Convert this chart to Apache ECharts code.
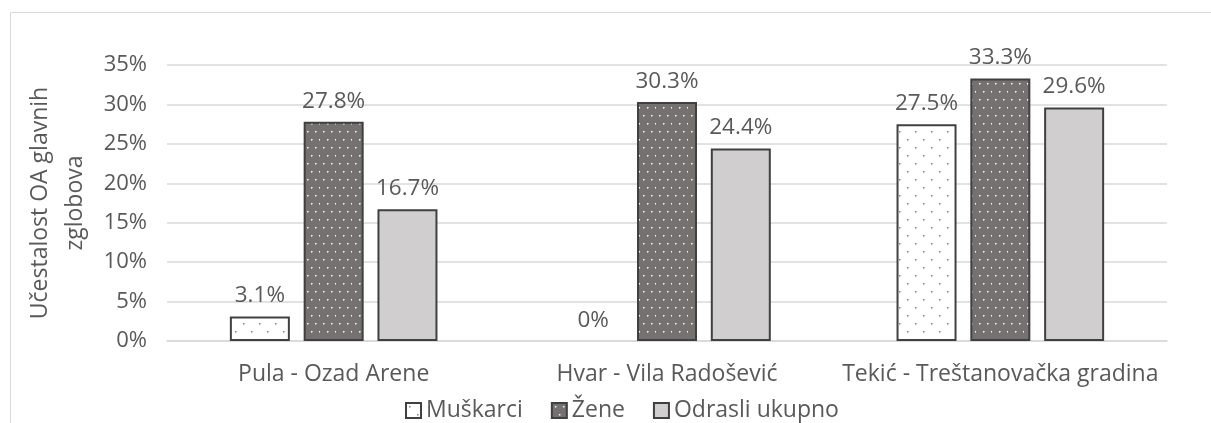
<!DOCTYPE html>
<html>
<head>
<meta charset="utf-8">
<script src="https://cdn.jsdelivr.net/npm/echarts@6/dist/echarts.min.js"></script>
<style>
  html, body { margin: 0; padding: 0; background: #fff; }
  #chart { width: 1211px; height: 423px; }
</style>
</head>
<body>
<div id="chart"></div>
<script>
// data
var categories = ['Pula - Ozad Arene', 'Hvar - Vila Radošević', 'Tekić - Treštanovačka gradina'];
var seriesNames = ['Muškarci', 'Žene', 'Odrasli ukupno'];
var muskarci = [3.1, 0, 27.5];
var zene = [27.8, 30.3, 33.3];
var odrasli = [16.7, 24.4, 29.6];
var yTicks = [0, 5, 10, 15, 20, 25, 30, 35];

var FONT = 'Open Sans';
var FS = 23;

// dotted fill patterns
function dotPattern(bg, dot, w, h, dots) {
  var c = document.createElement('canvas');
  c.width = w; c.height = h;
  var ctx = c.getContext('2d');
  ctx.fillStyle = bg;
  ctx.fillRect(0, 0, w, h);
  ctx.fillStyle = dot;
  dots.forEach(function (d) { ctx.fillRect(d[0], d[1], 1.5, 1.5); });
  return c;
}

var patMusk = dotPattern('#ffffff', '#7f7f7f', 16, 16, [[3, 3], [11, 11]]);
var patZene = dotPattern('#767171', '#ffffff', 16, 16, [[3, 3], [11, 3], [7, 11], [15, 11]]);

var chartDom = document.getElementById('chart');
var myChart = echarts.init(chartDom);

var labelStyle = {
  show: true,
  position: 'top',
  distance: 9,
  color: '#595959',
  fontSize: 22.5,
  fontFamily: FONT,
  formatter: function (p) { return p.value + '%'; }
};

function makeSeries(name, data, color) {
  return {
    name: name,
    type: 'bar',
    // a zero bar has no visible outline in the original
    data: data.map(function (v) {
      return v === 0 ? { value: v, itemStyle: { borderWidth: 0 } } : v;
    }),
    barWidth: 60,
    barGap: '23%',
    itemStyle: {
      color: color,
      borderColor: '#404040',
      borderWidth: 2
    },
    label: labelStyle
  };
}

var option = {
  animation: false,
  textStyle: { fontFamily: FONT },
  graphic: [
    {
      type: 'rect',
      shape: { x: 10.5, y: 12.5, width: 1400, height: 600 },
      style: { fill: 'none', stroke: '#d9d9d9', lineWidth: 1 },
      silent: true
    }
  ],
  legend: {
    data: seriesNames,
    bottom: -4,
    left: 400,
    icon: 'rect',
    itemWidth: 15,
    itemHeight: 15,
    itemGap: 28,
    itemStyle: { borderColor: '#404040', borderWidth: 2 },
    textStyle: { color: '#595959', fontSize: FS, fontFamily: FONT, padding: [0, 0, 0, 0] }
  },
  grid: {
    left: 167,
    right: 44,
    top: 65,
    bottom: 82
  },
  xAxis: {
    type: 'category',
    data: categories,
    axisTick: { show: false },
    axisLine: { lineStyle: { color: '#d9d9d9', width: 1.5 } },
    axisLabel: { color: '#595959', fontSize: FS, margin: 22, interval: 0 }
  },
  yAxis: {
    type: 'value',
    min: yTicks[0],
    max: yTicks[yTicks.length - 1],
    interval: 5,
    name: 'Učestalost OA glavnih\nzglobova',
    nameLocation: 'middle',
    nameGap: 48,
    nameTextStyle: { color: '#595959', fontSize: FS, lineHeight: 35 },
    axisLabel: { color: '#595959', fontSize: 22, margin: 20, formatter: '{value}%' },
    splitLine: { lineStyle: { color: '#d9d9d9', width: 1.5 } }
  },
  series: [
    makeSeries(seriesNames[0], muskarci, { image: patMusk, repeat: 'repeat' }),
    makeSeries(seriesNames[1], zene, { image: patZene, repeat: 'repeat' }),
    makeSeries(seriesNames[2], odrasli, '#d0cece')
  ]
};

myChart.setOption(option);
</script>
</body>
</html>
